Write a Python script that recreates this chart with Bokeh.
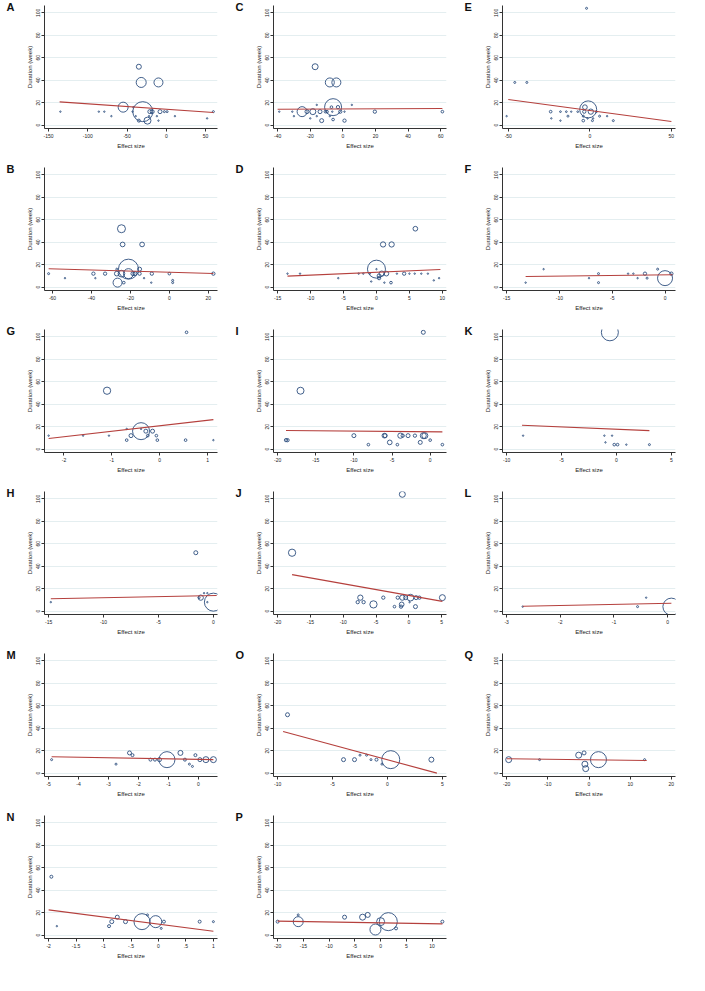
from bokeh.plotting import figure
from bokeh.layouts import gridplot
from bokeh.models import Range1d, FixedTicker
from bokeh.embed import file_html
from bokeh.resources import INLINE
import math

# ---------------- data (effect size, duration in weeks, study weight) ----------------
A_x = [-30, -55, -32, -10, -35, -24, -35, -21, -18, -8, -2.5, 1, -135, -86, -79, -70, -43, -39, -12, -10, 11, 52, 60, -42, -22]
A_y = [12, 16, 38, 38, 52, 4, 4, 12, 12, 12, 12, 12, 12, 12, 12, 8, 12, 8, 8, 4, 8, 6, 12, 16, 8]
A_w = [400, 100, 100, 81, 25, 49, 9, 16, 16, 16, 4, 4, 2, 2, 2, 2, 2, 2, 2, 2, 2, 2, 4, 2, 2]
A_fx = [-136, 60]
A_fy = [20.7, 11.3]
A_xt = [-150, -100, -50, 0, 50]

C_x = [-6, -25, -8, -4, -17, -18.4, -22, -14, -13, 1, 19.6, 61, -7, -3, -1.6, -10.7, -9.7, -6, -39, -31, -30, -20, -16, -16, 5.5, 1, -6.5, -8]
C_y = [16, 12, 38, 38, 52, 12, 12, 12, 4, 4, 12, 12, 16, 16, 12, 12, 12, 5, 12, 12, 8, 6, 8, 18, 18, 12, 12, 8]
C_w = [289, 100, 81, 81, 36, 36, 16, 16, 16, 11, 11, 7, 7, 11, 11, 7, 7, 7, 2, 2, 2, 2, 2, 2, 2, 2, 2, 2]
C_fx = [-40, 61]
C_fy = [14.2, 14.8]
C_xt = [-40, -20, 0, 20, 40, 60]

E_x = [-1, -3, 0.6, -3.4, -24, -46, -38.6, -2, -51, -23.6, -18, -14.4, -11.4, -7.4, -13.4, -4, -4, 1.6, -1.4, 2, 6, 10.6, 14.4, -18, 4]
E_y = [14, 16, 12, 12, 12, 38, 38, 104, 8, 6, 12, 12, 12, 12, 8, 8, 4, 4, 6, 6, 8, 8, 4, 4, 12]
E_w = [289, 22, 28, 11, 7, 4, 4, 4, 2, 2, 3, 3, 2, 3, 4, 4, 7, 4, 2, 2, 4, 2, 4, 2, 4]
E_fx = [-50, 50]
E_fy = [22.8, 3.3]
E_xt = [-50, 0, 50]

B_x = [-21, -21, -26.6, -24.6, -24, -14, -24.6, -27, -27, -33, -39, -62, -53.6, -38, -23.4, -18.7, -17.7, -15.3, -15.3, -13, -9, -9.3, 0, 1.7, 1.7, 22.6]
B_y = [16, 12, 4, 52, 38, 38, 12, 12, 16, 12, 12, 12, 8, 8, 4, 12, 12, 16, 12, 8, 12, 4, 12, 6, 4, 12]
B_w = [400, 100, 81, 64, 22, 22, 45, 22, 4, 11, 11, 4, 2, 2, 7, 16, 16, 16, 11, 2, 11, 2, 7, 4, 4, 11]
B_fx = [-62, 22.6]
B_fy = [16.3, 12.2]
B_xt = [-60, -40, -20, 0, 20]

D_x = [0, 1, 2.3, 5.9, 0.8, 1.5, 0.4, 0.4, 4.2, 2.2, -0.8, 1.2, -13.5, -11.6, -2.7, -2, -1, 3.1, 5, 5.8, 6.8, 7.8, -5.8, 8.7, 9.5, 0]
D_y = [16, 38, 38, 52, 12, 12, 10, 8, 12, 4, 5, 4, 12, 12, 12, 12, 12, 12, 12, 12, 12, 12, 8, 6, 8, 16]
D_w = [324, 28, 28, 22, 28, 22, 16, 11, 11, 7, 2, 2, 2, 2, 2, 2, 2, 2, 2, 2, 2, 2, 2, 2, 2, 2]
D_fx = [-13.5, 9.7]
D_fy = [9.8, 15.7]
D_xt = [-15, -10, -5, 0, 5, 10]

F_x = [0, 0.6, -1.9, -1.7, -0.7, -6.3, -6.3, -3.5, -3, -2.6, -11.5, -7.2, -13.2]
F_y = [8, 12, 12, 8, 16, 12, 4, 12, 12, 8, 16, 8, 4]
F_w = [225, 11, 11, 4, 4, 4, 4, 2, 2, 2, 2, 2, 2]
F_fx = [-13.2, 0.7]
F_fy = [9.5, 11.0]
F_xt = [-15, -10, -5, 0]

G_x = [-0.39, -1.1, 0.56, -0.15, -0.29, -0.6, -0.25, -0.07, -0.05, -0.69, 0.54, -0.69, -0.39, -2.32, -1.6, -1.06, 1.12]
G_y = [16, 52, 104, 16, 16, 12, 12, 12, 8, 8, 8, 18, 18, 12, 12, 12, 8]
G_w = [289, 53, 7, 16, 16, 16, 7, 7, 7, 7, 7, 2, 2, 2, 2, 2, 2]
G_fx = [-2.32, 1.12]
G_fy = [9.4, 26.3]
G_xt = [-2, -1, 0, 1]

I_x = [-17, -0.9, -18.7, -18.9, -10, -8.1, -6, -5.9, -5.3, -4.3, -3.9, -3.6, -2.9, -2, -1.3, -0.9, -0.7, 0, 1.6]
I_y = [52, 104, 8, 8, 12, 4, 12, 12, 6, 4, 12, 12, 12, 12, 6, 12, 12, 8, 4]
I_w = [49, 16, 11, 11, 16, 7, 22, 16, 22, 7, 28, 11, 16, 11, 16, 36, 36, 7, 7]
I_fx = [-18.9, 1.6]
I_fy = [16.6, 15.4]
I_xt = [-20, -15, -10, -5, 0]

K_x = [-0.6, -8.5, -1.1, -0.4, -1, -0.2, 0.1, 0.9, 3]
K_y = [104, 12, 12, 12, 6, 4, 4, 4, 4]
K_w = [289, 2, 2, 2, 2, 7, 7, 2, 4]
K_fx = [-8.6, 3]
K_fy = [21.2, 16.5]
K_xt = [-10, -5, 0, 5]

H_x = [0, -1.6, -1.15, -1.3, -0.85, -0.55, -0.55, -14.8]
H_y = [8, 52, 12, 12, 16, 16, 8, 8]
H_w = [324, 16, 28, 4, 2, 2, 2, 2]
H_fx = [-14.8, 0.3]
H_fy = [11.0, 13.9]
H_xt = [-15, -10, -5, 0]

J_x = [-17.8, -1, -5.4, -7.4, -7.8, -6.9, -3.9, -1.7, -1, -0.5, 0.24, -1.1, -1.2, -2.2, 1, 1.1, 1.6, 0.1, 5.1]
J_y = [52, 104, 6, 12, 8, 8, 12, 12, 12, 12, 12, 6, 4, 4, 4, 12, 12, 8, 12]
J_w = [53, 36, 53, 28, 11, 11, 11, 11, 28, 16, 45, 22, 11, 7, 16, 16, 11, 2, 36]
J_fx = [-17.8, 5.1]
J_fy = [32.5, 8.7]
J_xt = [-20, -15, -10, -5, 0, 5]

L_x = [0.07, -0.56, -0.4, -2.7]
L_y = [4, 4, 12, 4]
L_w = [289, 4, 2, 2]
L_fx = [-2.7, 0.07]
L_fy = [4.3, 7.0]
L_xt = [-3, -2, -1, 0]

M_x = [-4.9, -2.75, -2.3, -2.2, -1.6, -1.45, -1.3, -1.05, -0.6, -0.45, -0.3, -0.2, -0.1, 0.05, 0.25, 0.5]
M_y = [12, 8, 18, 16, 12, 12, 12, 12, 18, 12, 8, 6, 16, 12, 12, 12]
M_w = [4, 4, 16, 9, 9, 9, 16, 256, 25, 9, 4, 4, 9, 16, 36, 36]
M_fx = [-4.9, 0.5]
M_fy = [14.6, 12.0]
M_xt = [-5, -4, -3, -2, -1, 0]

O_x = [-9.1, -4, -3, -2.5, -1.9, -1.5, -1, 0.3, -0.5, 4]
O_y = [52, 12, 12, 16, 16, 12, 12, 12, 8, 12]
O_w = [16, 16, 16, 4, 4, 4, 9, 324, 4, 25]
O_fx = [-9.5, 4.5]
O_fy = [37, 0]
O_xt = [-10, -5, 0, 5]

Q_x = [-19.5, -12, -2.5, -1.2, -1, -0.8, 2.3, 13.5]
Q_y = [12, 12, 16, 18, 8, 4, 12, 12]
Q_w = [36, 4, 36, 16, 36, 36, 256, 4]
Q_fx = [-20, 14]
Q_fy = [12.8, 11.2]
Q_xt = [-20, -10, 0, 10, 20]

N_x = [-1.95, -1.85, -0.9, -0.85, -0.75, -0.6, -0.3, -0.05, 0.05, 0.1, 0.75, 1.0, -0.2]
N_y = [52, 8, 8, 12, 16, 12, 12, 12, 6, 12, 12, 12, 18]
N_w = [9, 2, 9, 16, 16, 16, 256, 144, 4, 9, 9, 4, 4]
N_fx = [-2, 1]
N_fy = [22.5, 3.5]
N_xt = [-2, -1.5, -1, -0.5, 0, 0.5, 1]

P_x = [-20, -16, -16, -7, -3.5, -2.5, -1, 0, 1.5, 3, 12]
P_y = [12, 12, 18, 16, 16, 18, 5, 12, 12, 6, 12]
P_w = [9, 100, 4, 16, 36, 25, 121, 64, 324, 9, 9]
P_fx = [-20, 12]
P_fy = [12.5, 10.0]
P_xt = [-20, -15, -10, -5, 0, 5, 10]

Y_TICKS = [0, 20, 40, 60, 80, 100]
X_LABEL = "Effect size"
Y_LABEL = "Duration (week)"

panels = {
    "A": (A_x, A_y, A_w, A_fx, A_fy, A_xt), "C": (C_x, C_y, C_w, C_fx, C_fy, C_xt),
    "E": (E_x, E_y, E_w, E_fx, E_fy, E_xt), "B": (B_x, B_y, B_w, B_fx, B_fy, B_xt),
    "D": (D_x, D_y, D_w, D_fx, D_fy, D_xt), "F": (F_x, F_y, F_w, F_fx, F_fy, F_xt),
    "G": (G_x, G_y, G_w, G_fx, G_fy, G_xt), "I": (I_x, I_y, I_w, I_fx, I_fy, I_xt),
    "K": (K_x, K_y, K_w, K_fx, K_fy, K_xt), "H": (H_x, H_y, H_w, H_fx, H_fy, H_xt),
    "J": (J_x, J_y, J_w, J_fx, J_fy, J_xt), "L": (L_x, L_y, L_w, L_fx, L_fy, L_xt),
    "M": (M_x, M_y, M_w, M_fx, M_fy, M_xt), "O": (O_x, O_y, O_w, O_fx, O_fy, O_xt),
    "Q": (Q_x, Q_y, Q_w, Q_fx, Q_fy, Q_xt), "N": (N_x, N_y, N_w, N_fx, N_fy, N_xt),
    "P": (P_x, P_y, P_w, P_fx, P_fy, P_xt),
}
grid_order = [["A", "C", "E"], ["B", "D", "F"], ["G", "I", "K"], ["H", "J", "L"], ["M", "O", "Q"], ["N", "P", None]]

FONT = "Liberation Sans"
W, H = 229, 162
BL, BR, BT, BB = 44, 12, 5, 34


def stata_fmt(v):
    if float(v).is_integer():
        return str(int(v))
    s = ("%g" % v)
    return s.replace("0.", ".")


def make_panel(letter):
    xs, ys, ws, fx, fy, xt = panels[letter]
    lo = min(min(xs), xt[0])
    hi = max(max(xs), xt[-1])
    pad = 0.025 * (hi - lo)
    p = figure(width=W, height=H, output_backend="svg", toolbar_location=None, title=letter,
               x_range=Range1d(lo - pad, hi + pad), y_range=Range1d(-3, 106.5),
               min_border_left=BL, min_border_right=BR, min_border_top=BT, min_border_bottom=BB)
    p.title.align = "left"
    p.title.offset = -38
    p.title.standoff = -15
    p.title.text_font = FONT
    p.title.text_font_size = "11px"
    p.title.text_font_style = "bold"
    p.title.text_color = "#111111"
    p.outline_line_color = None
    p.background_fill_color = "white"
    p.border_fill_color = "white"
    p.xgrid.visible = False
    p.ygrid.grid_line_color = "#e4eef0"
    p.ygrid.grid_line_width = 1
    p.yaxis.ticker = FixedTicker(ticks=Y_TICKS)
    p.xaxis.ticker = FixedTicker(ticks=xt)
    p.xaxis.major_label_overrides = {t: stata_fmt(t) for t in xt}
    p.yaxis.major_label_overrides = {t: stata_fmt(t) for t in Y_TICKS}
    p.yaxis.major_label_orientation = "vertical"
    p.xaxis.axis_label = X_LABEL
    p.yaxis.axis_label = Y_LABEL
    for ax in (p.xaxis[0], p.yaxis[0]):
        ax.axis_line_color = "#333333"
        ax.major_tick_line_color = "#333333"
        ax.minor_tick_line_color = None
        ax.major_tick_out = 3
        ax.major_tick_in = 0
        ax.major_label_text_font = FONT
        ax.major_label_text_font_size = "5px"
        ax.major_label_text_color = "#222222"
        ax.major_label_standoff = 2
        ax.axis_label_text_font = FONT
        ax.axis_label_text_font_size = "6px"
        ax.axis_label_text_font_style = "normal"
        ax.axis_label_text_color = "#1a1a1a"
        ax.axis_label_standoff = 2
    p.yaxis.major_label_standoff = 1
    p.yaxis.axis_label_standoff = 1
    sizes = [math.sqrt(w) for w in ws]
    p.scatter(xs, ys, size=sizes, marker="circle", fill_color=None,
              line_color="#2d4e7e", line_width=0.9)
    p.line(fx, fy, line_color="#b5403d", line_width=1.1)
    return p


rows = []
for r in grid_order:
    rows.append([make_panel(l) if l else None for l in r])

layout = gridplot(rows, toolbar_location=None)
open("out.html", "w").write(file_html(layout, INLINE))
